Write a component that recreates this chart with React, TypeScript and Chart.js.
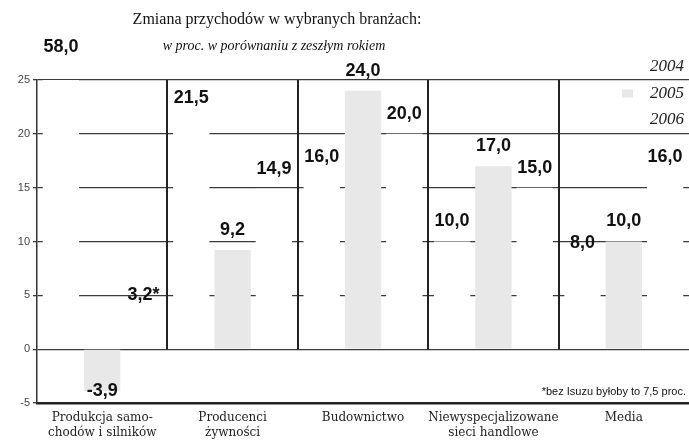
import React, { useEffect, useRef } from 'react';
import { Chart, registerables } from 'chart.js';

Chart.register(...registerables);

const categories: string[][] = [
  ['Produkcja samo-', 'chodów i silników'],
  ['Producenci', 'żywności'],
  ['Budownictwo'],
  ['Niewyspecjalizowane', 'sieci handlowe'],
  ['Media'],
];
const seriesNames = ['2004', '2005', '2006'];
const values2004 = [58.0, 21.5, 16.0, 10.0, 8.0];
const values2005 = [-3.9, 9.2, 24.0, 17.0, 10.0];
const values2006 = [3.2, 14.9, 20.0, 15.0, 16.0];
const notes2004 = ['', '', '', '', ''];
const notes2005 = ['', '', '', '', ''];
const notes2006 = ['*', '', '', '', ''];
const yMin = -5;
const yMax = 25;
const yStep = 5;
const title = 'Zmiana przychodów w wybranych branżach:';
const subtitle = 'w proc. w porównaniu z zeszłym rokiem';
const footnote = '*bez Isuzu byłoby to 7,5 proc.';

const seriesColors = ['#ffffff', '#e8e8e8', '#ffffff'];
const seriesNotes = [notes2004, notes2005, notes2006];

const fmt = (v: number) => v.toFixed(1).replace('.', ',');

const extras = {
  id: 'extras',
  afterDatasetsDraw(chart: any) {
    const { ctx, chartArea, scales } = chart;
    const x = scales.x;
    const y = scales.y;
    ctx.save();
    ctx.strokeStyle = '#222';
    ctx.lineWidth = 2;
    for (let i = 1; i < categories.length; i++) {
      const xx = Math.round((x.getPixelForValue(i - 1) + x.getPixelForValue(i)) / 2);
      ctx.beginPath();
      ctx.moveTo(xx, y.getPixelForValue(0));
      ctx.lineTo(xx, y.getPixelForValue(yMax));
      ctx.stroke();
    }
    ctx.font = 'bold 18px "Liberation Sans", Arial, sans-serif';
    ctx.fillStyle = '#111';
    ctx.textAlign = 'center';
    ctx.textBaseline = 'middle';
    chart.data.datasets.forEach((ds: any, di: number) => {
      const meta = chart.getDatasetMeta(di);
      meta.data.forEach((bar: any, i: number) => {
        const v = ds.data[i] as number;
        const text = fmt(v) + (seriesNotes[di][i] || '');
        let ty: number;
        if (v > yMax) ty = chartArea.top - 33;
        else if (v >= 0) ty = bar.y - 20;
        else ty = bar.y;
        ctx.fillText(text, bar.x, ty);
      });
    });
    ctx.restore();
  },
  afterDraw(chart: any) {
    const { ctx, width } = chart;
    ctx.save();
    ctx.fillStyle = '#111';
    ctx.textBaseline = 'middle';
    ctx.textAlign = 'center';
    ctx.font = '16px "Liberation Serif", "Times New Roman", serif';
    ctx.fillText(title, 277, 20);
    ctx.font = 'italic 14px "Liberation Serif", "Times New Roman", serif';
    ctx.fillText(subtitle, 274, 46);
    ctx.textAlign = 'right';
    ctx.font = 'italic 17px "Liberation Serif", "Times New Roman", serif';
    seriesNames.forEach((name, i) => {
      const ly = 67 + i * 26.5;
      ctx.fillStyle = seriesColors[i];
      ctx.fillRect(622, ly - 4, 11, 8);
      ctx.fillStyle = '#222';
      ctx.fillText(name, width - 5, ly);
    });
    ctx.font = '11px "Liberation Sans", Arial, sans-serif';
    ctx.fillStyle = '#111';
    ctx.fillText(footnote, width - 3, 392);
    ctx.restore();
  },
};

export default function App() {
  const ref = useRef<HTMLCanvasElement | null>(null);
  useEffect(() => {
    if (!ref.current) return;
    const datasets = [values2004, values2005, values2006].map((vals, i) => ({
      label: seriesNames[i],
      data: vals,
      backgroundColor: seriesColors[i],
      borderWidth: 0,
      categoryPercentage: 0.95,
      barPercentage: 0.88,
    }));
    const chart = new Chart(ref.current, {
      type: 'bar',
      data: { labels: categories, datasets },
      options: {
        responsive: false,
        animation: false,
        layout: { padding: { top: 80, right: 0, bottom: 0, left: 0 } },
        plugins: {
          legend: { display: false },
          tooltip: { enabled: false },
          title: { display: false },
        },
        scales: {
          x: {
            grid: { display: false, drawTicks: false },
            border: { display: true, color: '#222', width: 2.5 },
            ticks: {
              font: { family: '"DejaVu Serif", serif', size: 12 },
              color: '#222',
              padding: 8,
              maxRotation: 0,
              autoSkip: false,
            },
            afterFit: (s: any) => {
              s.height = 37;
            },
          },
          y: {
            min: yMin,
            max: yMax,
            ticks: {
              stepSize: yStep,
              font: { family: '"Liberation Sans", Arial, sans-serif', size: 11 },
              color: '#444',
              padding: 3,
            },
            grid: {
              color: '#3a3a3a',
              lineWidth: 1.3,
              drawTicks: true,
              tickLength: 4,
              tickColor: '#3a3a3a',
            },
            border: { display: true, color: '#333', width: 1.5 },
            afterFit: (s: any) => {
              s.width = 37;
            },
          },
        },
      },
      plugins: [extras],
    });
    return () => chart.destroy();
  }, []);
  return (
    <div style={{ position: 'absolute', left: 0, top: 0, width: 689, height: 440, background: '#fff' }}>
      <canvas ref={ref} width={689} height={440} />
    </div>
  );
}
